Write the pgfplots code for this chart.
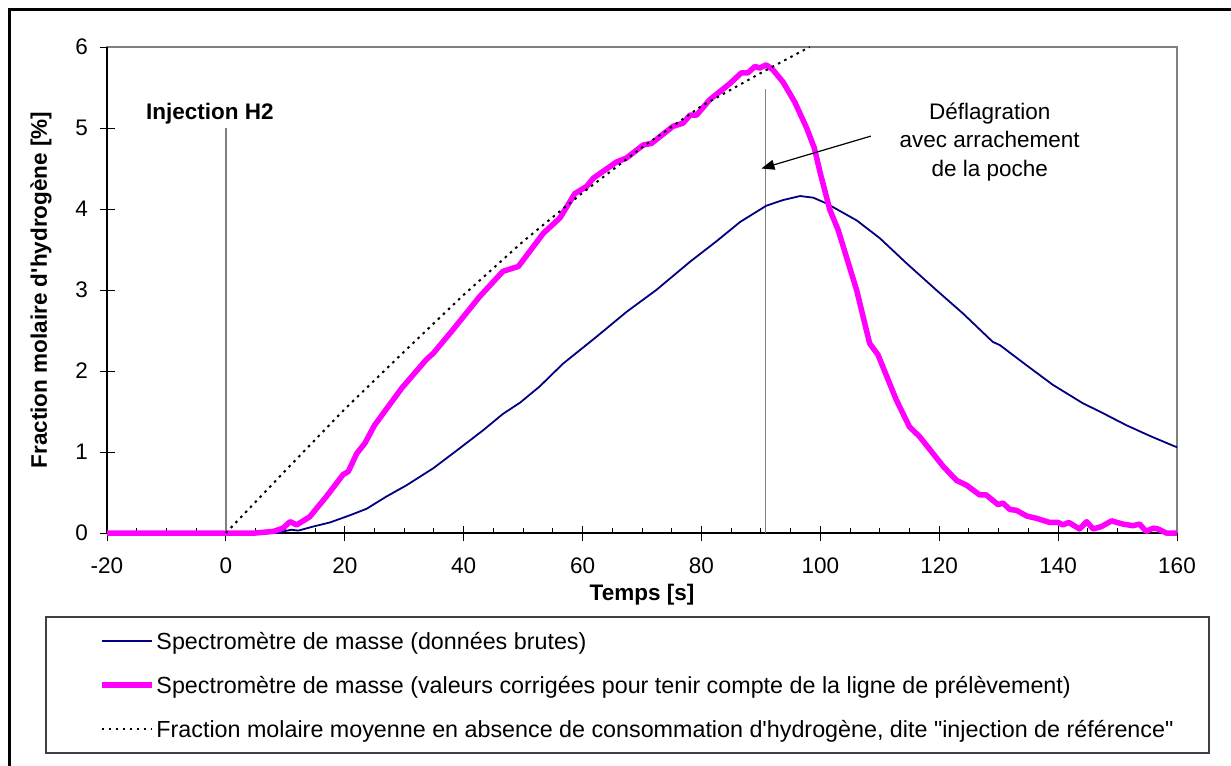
\documentclass[border=0pt]{standalone}
\usepackage{pgfplots}
\pgfplotsset{compat=1.18}
\usepackage{fontspec}
\setmainfont{Liberation Sans}[Ligatures=TeXOff]
\usetikzlibrary{arrows.meta}
\definecolor{navyb}{HTML}{000080}
\definecolor{magen}{HTML}{FF00FF}
\newcommand{\fs}{\fontsize{22.5}{27}\selectfont}
\begin{document}
\begin{tikzpicture}[x=1pt,y=1pt,font=\fs]
\begin{axis}[at={(0,0)}, anchor=south west, scale only axis,
  width=1070pt, height=486pt,
  xmin=-20, xmax=160, ymin=0, ymax=6,
  xtick={-20,0,...,160}, ytick={0,1,...,6},
  minor x tick num=3,
  tick pos=left, tick align=inside,
  major tick length=7.5pt, minor tick length=5pt,
  extra x ticks={-20,0,...,160}, extra x tick labels={},
  extra x tick style={tick align=outside},
  extra y ticks={0,1,...,6}, extra y tick labels={},
  extra y tick style={tick align=outside},
  axis line style={draw=gray, line width=1.2pt},
  tick style={black, line width=1pt},
  clip=false,
  /pgf/number format/assume math mode=true,
  xticklabel style={inner sep=0pt, anchor=north, yshift=-25pt, font=\fs},
  yticklabel style={inner sep=0pt, anchor=east, xshift=-19pt, font=\fs},
  xlabel={Temps [s]},
  xlabel style={at={(axis description cs:0.5,-0.1399)}, anchor=base, font=\bfseries\fs},
  ylabel={Fraction molaire d'hydrogène [\%]},
  ylabel style={at={(axis description cs:-0.0561,0.5)}, anchor=base, font=\bfseries\fs},
  legend style={at={(axis description cs:-0.0075,-0.2058)}, anchor=north west,
    draw=none, fill=none, inner sep=0pt, outer sep=0pt, row sep=23pt, column sep=2pt,
    font=\fontsize{23.3}{27}\selectfont,
    nodes={inner sep=0pt, anchor=base west, text height=16pt, text depth=5pt}},
  legend cell align=left,
  legend image code/.code={\draw[#1] (0pt,8pt) -- (50pt,8pt);},
]
\coordinate (BL) at (rel axis cs:-0.1,-0.4774);
\coordinate (TR) at (rel axis cs:1.05047,1.09671);
\draw[line width=2.5pt] (rel axis cs:-0.0911,-0.6) -- (rel axis cs:-0.0911,1.0772) -- (rel axis cs:1.2,1.0772);
\draw[line width=1.2pt, black!75] (rel axis cs:-0.0570,-0.1728) rectangle (rel axis cs:1.0299,-0.4527);
\draw[black, line width=1.2pt] (rel axis cs:0,1) -- (rel axis cs:0,0) -- (rel axis cs:1,0);
\draw[gray, line width=1.5pt] (axis cs:0,0) -- (axis cs:0,5);
\draw[gray, line width=1.5pt] (axis cs:90.8,0) -- (axis cs:90.8,5.48);

\addplot[navyb, line width=1.8pt, line join=round] coordinates {
(-20,0) (9,0) (9.6,0.02) (11,0.04) (12.2,0.03) (14.7,0.08) (17.5,0.13) (20.9,0.22)
(23.7,0.30) (27.0,0.45) (30.4,0.59) (34.9,0.80) (39.4,1.05) (43.3,1.27) (46.6,1.47)
(49.5,1.61) (52.8,1.81) (56.7,2.09) (62.3,2.42) (67.4,2.73) (72.4,3.00) (78.1,3.35)
(82.5,3.60) (86.5,3.84) (90.9,4.04) (93.7,4.11) (96.6,4.16) (98.8,4.14) (101,4.07)
(102.7,4.00) (106.1,3.86) (110,3.64) (114.5,3.33) (119.5,3.00) (124,2.71) (129,2.36)
(130.2,2.32) (134.7,2.07) (139.1,1.83) (144.2,1.60) (147,1.50) (151.5,1.33) (155.4,1.20)
(159.6,1.07) (160,1.06)};
\addlegendentry{Spectromètre de masse (données brutes)}

\addplot[magen, line width=5.5pt, line join=round] coordinates {
(-20,0) (5,0) (8,0.02) (9.6,0.06) (10.8,0.14) (11.9,0.10) (14.1,0.20) (16.9,0.45)
(19.7,0.72) (20.6,0.76) (22,0.98) (23.4,1.11) (25,1.33) (29.6,1.79) (33.7,2.14)
(34.9,2.22) (38.2,2.51) (42.7,2.92) (46.6,3.23) (48.3,3.27) (49.2,3.29) (53.4,3.70)
(56.2,3.89) (58.7,4.19) (60.7,4.28) (61.8,4.38) (65.7,4.58) (67.4,4.63) (70.2,4.79)
(71.6,4.81) (75.2,5.02) (76.9,5.06) (78.1,5.16) (79.2,5.16) (81.4,5.35) (84.8,5.55)
(86.7,5.68) (87.8,5.68) (89.0,5.76) (89.8,5.74) (90.9,5.78) (92.0,5.72) (93.7,5.57)
(95.7,5.32) (97.7,5.00) (99.0,4.75) (100,4.44) (101.6,3.99) (103,3.74) (106.1,3.00)
(108.3,2.34) (109.7,2.20) (112.8,1.64) (115,1.31) (116.7,1.19) (120.7,0.82) (122.9,0.65)
(124.6,0.59) (126.8,0.47) (127.9,0.47) (129.9,0.35) (130.7,0.37) (131.9,0.29) (133,0.28)
(134.7,0.21) (136.4,0.18) (138.6,0.13) (140,0.13) (140.8,0.10) (141.8,0.13) (143.6,0.05)
(144.8,0.14) (145.9,0.05) (147.3,0.08) (149,0.15) (150.9,0.11) (152.6,0.09) (153.7,0.11)
(154.8,0.02) (156,0.06) (156.8,0.05) (158.2,0.0) (160,0.0)};
\addlegendentry{Spectromètre de masse (valeurs corrigées pour tenir compte de la ligne de prélèvement)}

\addplot[black, line width=2pt, dash pattern=on 2.5pt off 4.5pt] coordinates {
(0,0) (10,0.77) (20,1.53) (30,2.24) (40,2.94) (50,3.60) (60,4.20) (70,4.76)
(80,5.27) (90,5.68) (98.2,6.0)};
\addlegendentry{Fraction molaire moyenne en absence de consommation d'hydrogène, dite "injection de référence"}

\node[font=\bfseries\fs, anchor=base, inner sep=0pt] at (axis cs:-2.7,5.105) {Injection H2};
\node[align=center, anchor=north, inner sep=0pt, font=\fontsize{22.5}{28.2}\selectfont]
  at (axis cs:128.5,5.309) {Déflagration\\avec arrachement\\de la poche};
\draw[-{Triangle[length=13pt,width=10pt]}, line width=1.2pt] (axis cs:108.5,4.9) -- (axis cs:90.1,4.5);
\end{axis}
\pgfresetboundingbox
\useasboundingbox (BL) rectangle (TR);
\end{tikzpicture}
\end{document}
